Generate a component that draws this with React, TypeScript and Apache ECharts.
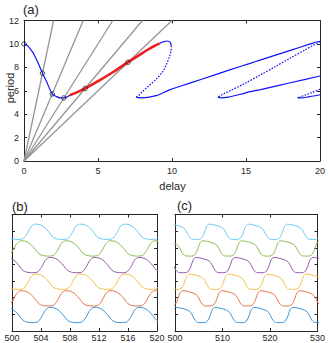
import React, { useEffect, useRef } from "react";
import * as echarts from "echarts";

// ---------- Panel (a) data ----------
const rayEnds: number[][] = [[2, 12], [4, 12], [6, 12], [8, 12], [10, 12]];
const markers: number[][] = [[0, 10], [1.25, 7.5], [1.91, 5.73], [2.69, 5.38], [4.13, 6.2], [7.03, 8.44]];
const blueStart: number[][] = [[0, 10], [0.18, 9.9], [0.4, 9.62], [0.63, 9.2], [0.96, 8.34], [1.25, 7.5], [1.53, 6.77], [1.91, 5.73], [2.2, 5.5], [2.45, 5.39], [2.69, 5.38], [2.9, 5.47], [3.1, 5.62]];
const redStable: number[][] = [[3.1, 5.62], [3.6, 5.88], [4.13, 6.2], [4.6, 6.52], [5.12, 6.9], [6.0, 7.58], [7.03, 8.44], [8.0, 9.22], [8.6, 9.68], [9.16, 10.05]];
const blueFold1: number[][] = [[9.16, 10.05], [9.45, 10.2], [9.7, 10.25], [9.88, 10.13], [9.95, 9.85]];
const dotted1: number[][] = [[9.95, 9.85], [9.93, 9.4], [9.83, 8.9], [9.62, 8.25], [9.38, 7.63], [8.9, 6.95], [8.37, 6.35], [7.95, 5.87], [7.75, 5.6], [7.62, 5.5], [7.59, 5.45]];
const blueLong: number[][] = [[7.59, 5.45], [7.7, 5.41], [8.03, 5.4], [8.93, 5.58], [9.83, 6.07], [10.5, 6.36], [12, 6.98], [14, 7.82], [15.22, 8.32], [16, 8.64], [18, 9.45], [19.3, 9.98], [19.75, 10.16], [20, 10.22]];
const dotted2: number[][] = [[20, 10.2], [19, 9.5], [18, 8.8], [17, 8.08], [16, 7.37], [14.88, 6.6], [14.0, 6.05], [13.5, 5.74], [13.2, 5.52], [13.1, 5.45]];
const blueMid: number[][] = [[13.1, 5.45], [13.3, 5.4], [13.8, 5.45], [14.88, 5.78], [15.22, 5.9], [16, 6.1], [18, 6.68], [20, 7.26]];
const dotted3: number[][] = [[20, 6.13], [19.5, 5.87], [19.0, 5.63], [18.65, 5.47], [18.47, 5.41]];
const blueLow: number[][] = [[18.47, 5.41], [18.7, 5.39], [19.3, 5.5], [20, 5.66]];

// ---------- Panel (b) data (time, value) ----------
const bBlue: number[][] = [[495.35, 0.64], [495.85, 0.54], [496.55, 0.5], [497.3, 0.53], [497.9, 0.82], [498.45, 1.25], [499.0, 1.42], [499.7, 1.39], [500.4, 1.2], [501.0, 0.91], [501.5, 0.64], [502.0, 0.54], [502.7, 0.5], [503.45, 0.53], [504.05, 0.82], [504.6, 1.25], [505.15, 1.42], [505.85, 1.39], [506.55, 1.2], [507.15, 0.91], [507.65, 0.64], [508.15, 0.54], [508.85, 0.5], [509.6, 0.53], [510.2, 0.82], [510.75, 1.25], [511.3, 1.42], [512.0, 1.39], [512.7, 1.2], [513.3, 0.91], [513.8, 0.64], [514.3, 0.54], [515.0, 0.5], [515.75, 0.53], [516.35, 0.82], [516.9, 1.25], [517.45, 1.42], [518.15, 1.39], [518.85, 1.2], [519.45, 0.91], [519.95, 0.64], [520.45, 0.54], [521.15, 0.5], [521.9, 0.53], [522.5, 0.82]];
const bOrange: number[][] = [[495.75, 2.39], [496.45, 2.2], [497.05, 1.91], [497.55, 1.64], [498.05, 1.54], [498.75, 1.5], [499.5, 1.53], [500.1, 1.82], [500.65, 2.25], [501.2, 2.42], [501.9, 2.39], [502.6, 2.2], [503.2, 1.91], [503.7, 1.64], [504.2, 1.54], [504.9, 1.5], [505.65, 1.53], [506.25, 1.82], [506.8, 2.25], [507.35, 2.42], [508.05, 2.39], [508.75, 2.2], [509.35, 1.91], [509.85, 1.64], [510.35, 1.54], [511.05, 1.5], [511.8, 1.53], [512.4, 1.82], [512.95, 2.25], [513.5, 2.42], [514.2, 2.39], [514.9, 2.2], [515.5, 1.91], [516.0, 1.64], [516.5, 1.54], [517.2, 1.5], [517.95, 1.53], [518.55, 1.82], [519.1, 2.25], [519.65, 2.42], [520.35, 2.39], [521.05, 2.2], [521.65, 1.91]];
const bYellow: number[][] = [[497.7, 3.39], [498.4, 3.2], [499.0, 2.91], [499.5, 2.64], [500.0, 2.54], [500.7, 2.5], [501.45, 2.53], [502.05, 2.82], [502.6, 3.25], [503.15, 3.42], [503.85, 3.39], [504.55, 3.2], [505.15, 2.91], [505.65, 2.64], [506.15, 2.54], [506.85, 2.5], [507.6, 2.53], [508.2, 2.82], [508.75, 3.25], [509.3, 3.42], [510.0, 3.39], [510.7, 3.2], [511.3, 2.91], [511.8, 2.64], [512.3, 2.54], [513.0, 2.5], [513.75, 2.53], [514.35, 2.82], [514.9, 3.25], [515.45, 3.42], [516.15, 3.39], [516.85, 3.2], [517.45, 2.91], [517.95, 2.64], [518.45, 2.54], [519.15, 2.5], [519.9, 2.53], [520.5, 2.82], [521.05, 3.25]];
const bPurple: number[][] = [[495.35, 3.64], [495.85, 3.54], [496.55, 3.5], [497.3, 3.53], [497.9, 3.82], [498.45, 4.25], [499.0, 4.42], [499.7, 4.39], [500.4, 4.2], [501.0, 3.91], [501.5, 3.64], [502.0, 3.54], [502.7, 3.5], [503.45, 3.53], [504.05, 3.82], [504.6, 4.25], [505.15, 4.42], [505.85, 4.39], [506.55, 4.2], [507.15, 3.91], [507.65, 3.64], [508.15, 3.54], [508.85, 3.5], [509.6, 3.53], [510.2, 3.82], [510.75, 4.25], [511.3, 4.42], [512.0, 4.39], [512.7, 4.2], [513.3, 3.91], [513.8, 3.64], [514.3, 3.54], [515.0, 3.5], [515.75, 3.53], [516.35, 3.82], [516.9, 4.25], [517.45, 4.42], [518.15, 4.39], [518.85, 4.2], [519.45, 3.91], [519.95, 3.64], [520.45, 3.54], [521.15, 3.5], [521.9, 3.53], [522.5, 3.82]];
const bGreen: number[][] = [[495.75, 5.39], [496.45, 5.2], [497.05, 4.91], [497.55, 4.64], [498.05, 4.54], [498.75, 4.5], [499.5, 4.53], [500.1, 4.82], [500.65, 5.25], [501.2, 5.42], [501.9, 5.39], [502.6, 5.2], [503.2, 4.91], [503.7, 4.64], [504.2, 4.54], [504.9, 4.5], [505.65, 4.53], [506.25, 4.82], [506.8, 5.25], [507.35, 5.42], [508.05, 5.39], [508.75, 5.2], [509.35, 4.91], [509.85, 4.64], [510.35, 4.54], [511.05, 4.5], [511.8, 4.53], [512.4, 4.82], [512.95, 5.25], [513.5, 5.42], [514.2, 5.39], [514.9, 5.2], [515.5, 4.91], [516.0, 4.64], [516.5, 4.54], [517.2, 4.5], [517.95, 4.53], [518.55, 4.82], [519.1, 5.25], [519.65, 5.42], [520.35, 5.39], [521.05, 5.2], [521.65, 4.91]];
const bLightBlue: number[][] = [[497.7, 6.39], [498.4, 6.2], [499.0, 5.91], [499.5, 5.64], [500.0, 5.54], [500.7, 5.5], [501.45, 5.53], [502.05, 5.82], [502.6, 6.25], [503.15, 6.42], [503.85, 6.39], [504.55, 6.2], [505.15, 5.91], [505.65, 5.64], [506.15, 5.54], [506.85, 5.5], [507.6, 5.53], [508.2, 5.82], [508.75, 6.25], [509.3, 6.42], [510.0, 6.39], [510.7, 6.2], [511.3, 5.91], [511.8, 5.64], [512.3, 5.54], [513.0, 5.5], [513.75, 5.53], [514.35, 5.82], [514.9, 6.25], [515.45, 6.42], [516.15, 6.39], [516.85, 6.2], [517.45, 5.91], [517.95, 5.64], [518.45, 5.54], [519.15, 5.5], [519.9, 5.53], [520.5, 5.82], [521.05, 6.25]];

// ---------- Panel (c) data (time, value) ----------
const cBlue: number[][] = [[494.4, 1.26], [495.1, 1.12], [495.6, 0.86], [496.1, 0.62], [496.7, 0.51], [497.9, 0.5], [498.5, 0.56], [499.0, 0.78], [499.3, 1.01], [499.65, 1.28], [500.2, 1.42], [501.2, 1.38], [502.6, 1.26], [503.3, 1.12], [503.8, 0.86], [504.3, 0.62], [504.9, 0.51], [506.1, 0.5], [506.7, 0.56], [507.2, 0.78], [507.5, 1.01], [507.85, 1.28], [508.4, 1.42], [509.4, 1.38], [510.8, 1.26], [511.5, 1.12], [512.0, 0.86], [512.5, 0.62], [513.1, 0.51], [514.3, 0.5], [514.9, 0.56], [515.4, 0.78], [515.7, 1.01], [516.05, 1.28], [516.6, 1.42], [517.6, 1.38], [519.0, 1.26], [519.7, 1.12], [520.2, 0.86], [520.7, 0.62], [521.3, 0.51], [522.5, 0.5], [523.1, 0.56], [523.6, 0.78], [523.9, 1.01], [524.25, 1.28], [524.8, 1.42], [525.8, 1.38], [527.2, 1.26], [527.9, 1.12], [528.4, 0.86], [528.9, 0.62], [529.5, 0.51], [530.7, 0.5], [531.3, 0.56]];
const cOrange: number[][] = [[495.8, 2.26], [496.5, 2.12], [497.0, 1.86], [497.5, 1.62], [498.1, 1.51], [499.3, 1.5], [499.9, 1.56], [500.4, 1.78], [500.7, 2.01], [501.05, 2.28], [501.6, 2.42], [502.6, 2.38], [504.0, 2.26], [504.7, 2.12], [505.2, 1.86], [505.7, 1.62], [506.3, 1.51], [507.5, 1.5], [508.1, 1.56], [508.6, 1.78], [508.9, 2.01], [509.25, 2.28], [509.8, 2.42], [510.8, 2.38], [512.2, 2.26], [512.9, 2.12], [513.4, 1.86], [513.9, 1.62], [514.5, 1.51], [515.7, 1.5], [516.3, 1.56], [516.8, 1.78], [517.1, 2.01], [517.45, 2.28], [518.0, 2.42], [519.0, 2.38], [520.4, 2.26], [521.1, 2.12], [521.6, 1.86], [522.1, 1.62], [522.7, 1.51], [523.9, 1.5], [524.5, 1.56], [525.0, 1.78], [525.3, 2.01], [525.65, 2.28], [526.2, 2.42], [527.2, 2.38], [528.6, 2.26], [529.3, 2.12], [529.8, 1.86], [530.3, 1.62], [530.9, 1.51]];
const cYellow: number[][] = [[497.2, 3.26], [497.9, 3.12], [498.4, 2.86], [498.9, 2.62], [499.5, 2.51], [500.7, 2.5], [501.3, 2.56], [501.8, 2.78], [502.1, 3.01], [502.45, 3.28], [503.0, 3.42], [504.0, 3.38], [505.4, 3.26], [506.1, 3.12], [506.6, 2.86], [507.1, 2.62], [507.7, 2.51], [508.9, 2.5], [509.5, 2.56], [510.0, 2.78], [510.3, 3.01], [510.65, 3.28], [511.2, 3.42], [512.2, 3.38], [513.6, 3.26], [514.3, 3.12], [514.8, 2.86], [515.3, 2.62], [515.9, 2.51], [517.1, 2.5], [517.7, 2.56], [518.2, 2.78], [518.5, 3.01], [518.85, 3.28], [519.4, 3.42], [520.4, 3.38], [521.8, 3.26], [522.5, 3.12], [523.0, 2.86], [523.5, 2.62], [524.1, 2.51], [525.3, 2.5], [525.9, 2.56], [526.4, 2.78], [526.7, 3.01], [527.05, 3.28], [527.6, 3.42], [528.6, 3.38], [530.0, 3.26], [530.7, 3.12]];
const cPurple: number[][] = [[495.3, 4.01], [495.65, 4.28], [496.2, 4.42], [497.2, 4.38], [498.6, 4.26], [499.3, 4.12], [499.8, 3.86], [500.3, 3.62], [500.9, 3.51], [502.1, 3.5], [502.7, 3.56], [503.2, 3.78], [503.5, 4.01], [503.85, 4.28], [504.4, 4.42], [505.4, 4.38], [506.8, 4.26], [507.5, 4.12], [508.0, 3.86], [508.5, 3.62], [509.1, 3.51], [510.3, 3.5], [510.9, 3.56], [511.4, 3.78], [511.7, 4.01], [512.05, 4.28], [512.6, 4.42], [513.6, 4.38], [515.0, 4.26], [515.7, 4.12], [516.2, 3.86], [516.7, 3.62], [517.3, 3.51], [518.5, 3.5], [519.1, 3.56], [519.6, 3.78], [519.9, 4.01], [520.25, 4.28], [520.8, 4.42], [521.8, 4.38], [523.2, 4.26], [523.9, 4.12], [524.4, 3.86], [524.9, 3.62], [525.5, 3.51], [526.7, 3.5], [527.3, 3.56], [527.8, 3.78], [528.1, 4.01], [528.45, 4.28], [529.0, 4.42], [530.0, 4.38], [531.4, 4.26]];
const cGreen: number[][] = [[495.3, 4.5], [495.9, 4.56], [496.4, 4.78], [496.7, 5.01], [497.05, 5.28], [497.6, 5.42], [498.6, 5.38], [500.0, 5.26], [500.7, 5.12], [501.2, 4.86], [501.7, 4.62], [502.3, 4.51], [503.5, 4.5], [504.1, 4.56], [504.6, 4.78], [504.9, 5.01], [505.25, 5.28], [505.8, 5.42], [506.8, 5.38], [508.2, 5.26], [508.9, 5.12], [509.4, 4.86], [509.9, 4.62], [510.5, 4.51], [511.7, 4.5], [512.3, 4.56], [512.8, 4.78], [513.1, 5.01], [513.45, 5.28], [514.0, 5.42], [515.0, 5.38], [516.4, 5.26], [517.1, 5.12], [517.6, 4.86], [518.1, 4.62], [518.7, 4.51], [519.9, 4.5], [520.5, 4.56], [521.0, 4.78], [521.3, 5.01], [521.65, 5.28], [522.2, 5.42], [523.2, 5.38], [524.6, 5.26], [525.3, 5.12], [525.8, 4.86], [526.3, 4.62], [526.9, 4.51], [528.1, 4.5], [528.7, 4.56], [529.2, 4.78], [529.5, 5.01], [529.85, 5.28], [530.4, 5.42]];
const cLightBlue: number[][] = [[496.7, 5.5], [497.3, 5.56], [497.8, 5.78], [498.1, 6.01], [498.45, 6.28], [499.0, 6.42], [500.0, 6.38], [501.4, 6.26], [502.1, 6.12], [502.6, 5.86], [503.1, 5.62], [503.7, 5.51], [504.9, 5.5], [505.5, 5.56], [506.0, 5.78], [506.3, 6.01], [506.65, 6.28], [507.2, 6.42], [508.2, 6.38], [509.6, 6.26], [510.3, 6.12], [510.8, 5.86], [511.3, 5.62], [511.9, 5.51], [513.1, 5.5], [513.7, 5.56], [514.2, 5.78], [514.5, 6.01], [514.85, 6.28], [515.4, 6.42], [516.4, 6.38], [517.8, 6.26], [518.5, 6.12], [519.0, 5.86], [519.5, 5.62], [520.1, 5.51], [521.3, 5.5], [521.9, 5.56], [522.4, 5.78], [522.7, 6.01], [523.05, 6.28], [523.6, 6.42], [524.6, 6.38], [526.0, 6.26], [526.7, 6.12], [527.2, 5.86], [527.7, 5.62], [528.3, 5.51], [529.5, 5.5], [530.1, 5.56]];

const waveColors = ["#3f93d3", "#e4744a", "#f0bf4c", "#955aa8", "#8bbb55", "#6ccbf0"];
const bSeries = [bBlue, bOrange, bYellow, bPurple, bGreen, bLightBlue];
const cSeries = [cBlue, cOrange, cYellow, cPurple, cGreen, cLightBlue];

const AX = "#262626";
const FONT = "'Liberation Sans', Arial, Helvetica, sans-serif";

function xAx(gridIndex: number, min: number, max: number, interval: number, position: string, labels: boolean, margin: number) {
  return {
    type: "value", gridIndex, min, max, interval, position,
    axisLine: { show: true, onZero: false, lineStyle: { color: AX, width: 1 } },
    axisTick: { show: true, inside: true, length: 3, lineStyle: { color: AX, width: 1 } },
    axisLabel: { show: labels, fontSize: 9, color: AX, fontFamily: FONT, margin, showMinLabel: true, showMaxLabel: true },
    splitLine: { show: false },
  };
}
function yAx(gridIndex: number, min: number, max: number, interval: number, position: string, labels: boolean) {
  return {
    type: "value", gridIndex, min, max, interval, position,
    axisLine: { show: true, onZero: false, lineStyle: { color: AX, width: 1 } },
    axisTick: { show: true, inside: true, length: 3, lineStyle: { color: AX, width: 1 } },
    axisLabel: { show: labels, fontSize: 9, color: AX, fontFamily: FONT, margin: 5, showMinLabel: true, showMaxLabel: true },
    splitLine: { show: false },
  };
}

function lineS(data: number[][], color: string, width: number, xi: number, yi: number, dash: any = "solid", smooth: any = 0.3) {
  return {
    type: "line", data, xAxisIndex: xi, yAxisIndex: yi, symbol: "none", smooth,
    lineStyle: { color, width, type: dash }, silent: true, animation: false,
  };
}

export default function App() {
  const ref = useRef<HTMLDivElement>(null);
  useEffect(() => {
    if (!ref.current) return;
    const chart = echarts.init(ref.current, undefined, { renderer: "svg" });
    const series: any[] = [];
    rayEnds.forEach((e) => series.push(lineS([[0, 0], e], "#959595", 1.3, 0, 0, "solid", false)));
    series.push(lineS(blueStart, "#1010ff", 1.2, 0, 0));
    series.push(lineS(blueFold1, "#1010ff", 1.2, 0, 0));
    series.push(lineS(dotted1, "#1010ff", 1.2, 0, 0, [1.6, 1.4]));
    series.push(lineS(blueLong, "#1010ff", 1.2, 0, 0));
    series.push(lineS(dotted2, "#1010ff", 1.2, 0, 0, [1.6, 1.4]));
    series.push(lineS(blueMid, "#1010ff", 1.2, 0, 0));
    series.push(lineS(dotted3, "#1010ff", 1.2, 0, 0, [1.6, 1.4]));
    series.push(lineS(blueLow, "#1010ff", 1.2, 0, 0));
    series.push(lineS(redStable, "#ee1c1c", 2.6, 0, 0));
    series.push({
      type: "scatter", data: markers, xAxisIndex: 0, yAxisIndex: 0, symbol: "circle", symbolSize: 4.5,
      itemStyle: { color: "rgba(255,255,255,0)", borderColor: "#111", borderWidth: 0.9 }, silent: true, animation: false, z: 5,
    });
    bSeries.forEach((d, i) => series.push(lineS(d, waveColors[i], 1, 2, 2, "solid", 0.3)));
    cSeries.forEach((d, i) => series.push(lineS(d, waveColors[i], 1, 4, 4, "solid", 0.3)));

    const txt = (text: string, x: number, y: number, size: number, align = "left", rotation = 0) => ({
      type: "text", x, y, rotation, silent: true,
      style: { text, fill: AX, font: `${size}px ${FONT}`, align, verticalAlign: "middle" },
    });

    chart.setOption({
      animation: false,
      grid: [
        { left: 24, top: 20.5, width: 297, height: 140.5 },
        { left: 12, top: 214.5, width: 145, height: 116.5 },
        { left: 175, top: 214.5, width: 146, height: 116.5 },
      ],
      xAxis: [
        xAx(0, 0, 20, 5, "bottom", true, 5),
        xAx(0, 0, 20, 5, "top", false, 5),
        xAx(1, 500, 520, 4, "bottom", true, 2),
        xAx(1, 500, 520, 4, "top", false, 2),
        xAx(2, 500, 530, 10, "bottom", true, 2),
        xAx(2, 500, 530, 10, "top", false, 2),
      ],
      yAxis: [
        yAx(0, 0, 12, 2, "left", true),
        yAx(0, 0, 12, 2, "right", false),
        yAx(1, 0, 7, 1, "left", false),
        yAx(1, 0, 7, 1, "right", false),
        yAx(2, 0, 7, 1, "left", false),
        yAx(2, 0, 7, 1, "right", false),
      ],
      graphic: [
        txt("(a)", 23, 9.5, 13),
        txt("(b)", 12, 206, 13),
        txt("(c)", 177, 205, 13),
        txt("delay", 172.5, 185.5, 11, "center"),
        txt("period", 10, 88, 11, "center", Math.PI / 2),
      ],
      series,
    });
    return () => chart.dispose();
  }, []);
  return <div ref={ref} style={{ position: "absolute", left: 0, top: 0, width: 328, height: 343, background: "#fff" }} />;
}
